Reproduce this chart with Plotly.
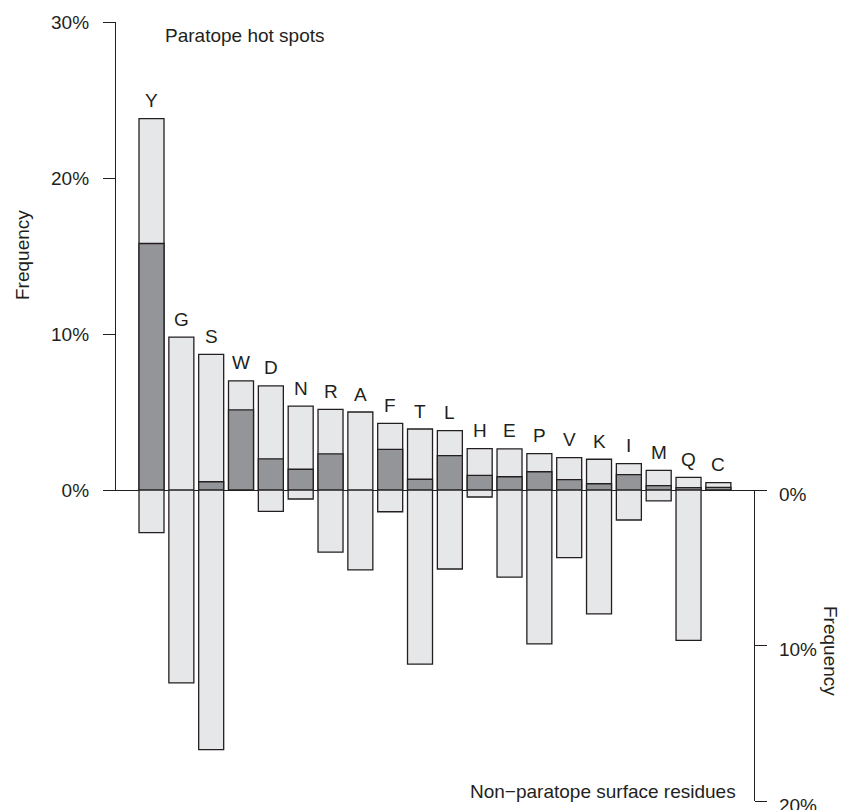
import plotly.graph_objects as go

# Amino acids ordered by paratope frequency
residues = ["Y", "G", "S", "W", "D", "N", "R", "A", "F", "T",
            "L", "H", "E", "P", "V", "K", "I", "M", "Q", "C"]
# Frequency (%) among paratope residues
paratope_pct = [23.8, 9.8, 8.7, 7.0, 6.67, 5.38, 5.17, 5.0, 4.27, 3.91,
                3.8, 2.65, 2.63, 2.33, 2.07, 1.97, 1.69, 1.26, 0.81, 0.47]
# Frequency (%) among paratope hot spots
hotspot_pct = [15.8, 0.0, 0.53, 5.13, 2.0, 1.33, 2.31, 0.0, 2.61, 0.69,
               2.2, 0.94, 0.85, 1.17, 0.66, 0.4, 0.98, 0.28, 0.15, 0.17]
# Frequency (%) among non-paratope surface residues
nonparatope_pct = [2.74, 12.4, 16.7, 0.0, 1.37, 0.58, 3.99, 5.14, 1.4, 11.2,
                   5.08, 0.45, 5.6, 9.9, 4.35, 7.97, 1.93, 0.7, 9.67, 0.0]

upper_ticks = [0, 10, 20, 30]
lower_ticks = [0, 10, 20]

INK = "#231f20"
LIGHT = "#e6e7e9"
DARK = "#939598"
FONT = "Liberation Sans, Arial, Helvetica, sans-serif"
FS = 19

# page geometry (pixels)
W, H = 842, 810
ML, MR, MT, MB = 103, 75, 22, 9
PW, PH = W - ML - MR, H - MT - MB
split = 311 / PH  # share of height taken by the lower (non-paratope) panel


def px(xp):
    return (xp - ML) / PW


def py(yp):
    return (H - MB - yp) / PH


outline = dict(color=INK, width=1.3)

fig = go.Figure()
fig.add_trace(go.Bar(x=residues, y=paratope_pct, marker=dict(color=LIGHT, line=outline),
                     xaxis="x", yaxis="y", name="Paratope"))
hs_x = [r for r, v in zip(residues, hotspot_pct) if v > 0]
hs_y = [v for v in hotspot_pct if v > 0]
fig.add_trace(go.Bar(x=hs_x, y=hs_y, marker=dict(color=DARK, line=outline),
                     xaxis="x", yaxis="y", name="Hot spots"))
np_x = [r for r, v in zip(residues, nonparatope_pct) if v > 0]
np_y = [v for v in nonparatope_pct if v > 0]
fig.add_trace(go.Bar(x=np_x, y=np_y, marker=dict(color=LIGHT, line=outline),
                     xaxis="x", yaxis="y2", name="Non-paratope"))

# residue letters above each bar
for r, v in zip(residues, paratope_pct):
    fig.add_annotation(x=r, y=v, xref="x", yref="y", text=r, showarrow=False,
                       yanchor="middle", yshift=18,
                       font=dict(family=FONT, size=FS, color=INK))

fig.add_annotation(x=px(162.7), y=py(35), xref="paper", yref="paper",
                   text="Paratope hot spots", showarrow=False,
                   xanchor="left", yanchor="middle",
                   font=dict(family=FONT, size=FS, color=INK))
fig.add_annotation(x=px(738), y=py(791), xref="paper", yref="paper",
                   text="Non\u2212paratope surface residues", showarrow=False,
                   xanchor="right", yanchor="middle",
                   font=dict(family=FONT, size=FS, color=INK))
fig.add_annotation(x=px(23), y=py(255), xref="paper", yref="paper",
                   text="Frequency", showarrow=False, textangle=-90,
                   xanchor="center", yanchor="middle",
                   font=dict(family=FONT, size=FS, color=INK))
fig.add_annotation(x=px(831), y=py(651), xref="paper", yref="paper",
                   text="Frequency", showarrow=False, textangle=90,
                   xanchor="center", yanchor="middle",
                   font=dict(family=FONT, size=FS, color=INK))

fig.update_layout(
    width=W, height=H,
    margin=dict(l=ML, r=MR, t=MT, b=MB, pad=0, autoexpand=False),
    paper_bgcolor="white", plot_bgcolor="white",
    barmode="overlay", bargap=0.162, showlegend=False,
    font=dict(family=FONT, size=FS, color=INK),
    xaxis=dict(domain=[0, 1], anchor="y", range=[-1.626, 20.63], automargin=False,
               showline=True, linecolor=INK, linewidth=1.3,
               showticklabels=False, ticks="", showgrid=False, zeroline=False),
    yaxis=dict(domain=[split, 1], range=[0, 30], anchor="free", position=px(115),
               side="left", automargin=False, ticklabeloverflow="allow",
               showline=True, linecolor=INK, linewidth=1.3,
               ticks="outside", ticklen=12, tickwidth=1.3, tickcolor=INK,
               tickvals=upper_ticks, ticktext=[f"{t}%" for t in upper_ticks],
               ticklabelstandoff=10, showgrid=False, zeroline=False),
    yaxis2=dict(domain=[0, split], range=[20, 0], anchor="free", position=px(754),
                side="right", automargin=False, ticklabeloverflow="allow",
                showline=True, linecolor=INK, linewidth=1.3,
                ticks="outside", ticklen=12, tickwidth=1.3, tickcolor=INK,
                tickvals=lower_ticks, ticktext=[f"{t}%" for t in lower_ticks],
                ticklabelstandoff=8, ticklabelshift=-4,
                showgrid=False, zeroline=False),
)

fig.write_html("out.html")
